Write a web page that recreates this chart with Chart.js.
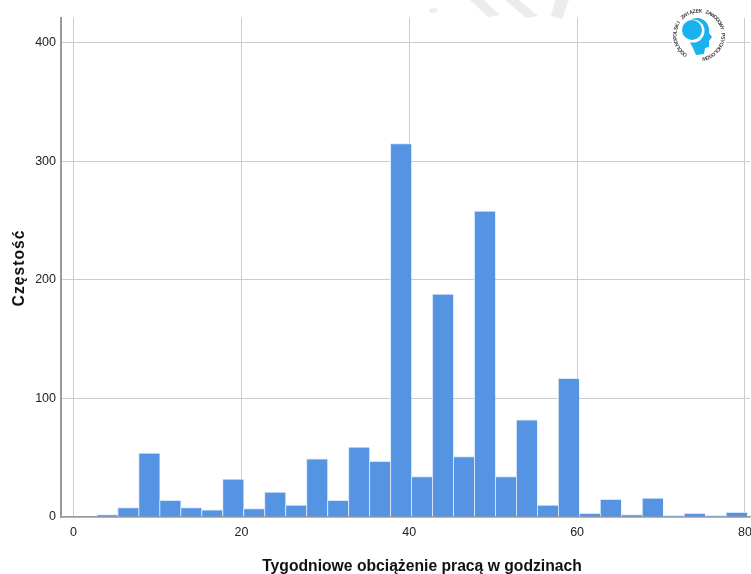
<!DOCTYPE html>
<html lang="pl">
<head>
<meta charset="utf-8">
<title>Tygodniowe obciążenie pracą</title>
<script src="https://cdn.jsdelivr.net/npm/chart.js@4.4.1/dist/chart.umd.min.js"></script>
<style>
  html, body { margin: 0; padding: 0; background: #fff; }
  #wrap { width: 751px; height: 574px; }
</style>
</head>
<body>
<div id="wrap"><canvas id="wykres" width="751" height="574"></canvas></div>
<script>
// srodki przedzialow histogramu (szerokosc 2,5 h) i liczebnosci
const srodkiPrzedzialow = [4, 6.5, 9, 11.5, 14, 16.5, 19, 21.5, 24, 26.5, 29, 31.5, 34, 36.5, 39, 41.5,
  44, 46.5, 49, 51.5, 54, 56.5, 59, 61.5, 64, 66.5, 69, 71.5, 74, 76.5, 79];
const czestosci = [2, 8, 54, 14, 8, 6, 32, 7, 21, 10, 49, 14, 59, 47, 315, 34,
  188, 51, 258, 34, 82, 10, 117, 3, 15, 2, 16, 1, 3, 1, 4];
const tickiX = [0, 20, 40, 60, 80];
const tickiY = [0, 100, 200, 300, 400];
const tytulX = 'Tygodniowe obciążenie pracą w godzinach';
const tytulY = 'Częstość';
const napisLogo = 'OGÓLNOPOLSKI ZWIĄZEK ZAWODOWY PSYCHOLOGÓW';

const fontTicki = { family: '"Liberation Sans Narrow", "Arial Narrow", sans-serif', size: 12.5 };

function rysujLogo(ctx) {
  const cx = 699, cy = 35;
  ctx.save();
  ctx.fillStyle = '#fff';
  ctx.beginPath(); ctx.arc(cx, cy, 28, 0, Math.PI * 2); ctx.fill();

  // sylwetka glowy
  ctx.fillStyle = '#19b2ec';
  ctx.beginPath();
  ctx.moveTo(cx - 11, cy + 4);
  ctx.quadraticCurveTo(cx - 6, cy + 12, cx - 3, cy + 20);
  ctx.lineTo(cx + 5, cy + 19);
  ctx.lineTo(cx + 6, cy + 13);
  ctx.lineTo(cx + 10, cy + 12);
  ctx.lineTo(cx + 10, cy + 6);
  ctx.lineTo(cx + 13, cy + 2);
  ctx.lineTo(cx + 10, cy - 2);
  ctx.quadraticCurveTo(cx + 11, cy - 14, cx, cy - 17);
  ctx.quadraticCurveTo(cx - 10, cy - 18, cx - 14, cy - 8);
  ctx.closePath();
  ctx.fill();
  ctx.fillStyle = '#fff';
  ctx.beginPath(); ctx.arc(cx - 6, cy - 4, 11.5, 0, Math.PI * 2); ctx.fill();
  ctx.fillStyle = '#19b2ec';
  ctx.beginPath(); ctx.arc(cx - 7, cy - 5, 10, 0, Math.PI * 2); ctx.fill();

  // napis po okregu
  ctx.fillStyle = '#444';
  ctx.font = 'bold 5.2px "Liberation Sans", sans-serif';
  ctx.textAlign = 'center';
  ctx.textBaseline = 'alphabetic';
  const start = 122 * Math.PI / 180, krok = (319 / napisLogo.length) * Math.PI / 180, r = 22.5;
  for (let i = 0; i < napisLogo.length; i++) {
    const a = start + krok * (i + 0.5);
    ctx.save();
    ctx.translate(cx + r * Math.cos(a), cy + r * Math.sin(a));
    ctx.rotate(a + Math.PI / 2);
    ctx.fillText(napisLogo[i], 0, 0);
    ctx.restore();
  }
  ctx.restore();
}

function rysujZnakWodny(ctx) {
  ctx.save();
  ctx.fillStyle = '#ececec';
  const ksztalty = [
    [[429, 9], [436, 8], [438, 12], [431, 13]],
    [[470, 0], [484, 0], [500, 15], [488, 17]],
    [[505, 0], [519, 0], [538, 16], [526, 18]],
    [[555, 0], [569, 0], [562, 19], [551, 16]]
  ];
  ksztalty.forEach(k => {
    ctx.beginPath();
    ctx.moveTo(k[0][0], k[0][1]);
    k.slice(1).forEach(p => ctx.lineTo(p[0], p[1]));
    ctx.closePath();
    ctx.fill();
  });
  ctx.restore();
}

const opisy = {
  id: 'opisy',
  beforeDraw(chart) {
    rysujZnakWodny(chart.ctx);
  },
  afterDraw(chart) {
    const ctx = chart.ctx;
    ctx.save();
    ctx.fillStyle = '#111';
    ctx.font = 'bold 15.7px "Liberation Sans", Arial, sans-serif';
    ctx.textAlign = 'center';
    ctx.textBaseline = 'alphabetic';
    ctx.fillText(tytulX, 422, 570.5);
    ctx.translate(23.5, 268);
    ctx.rotate(-Math.PI / 2);
    ctx.letterSpacing = '1px';
    ctx.fillText(tytulY, 0, 0);
    ctx.restore();
    rysujLogo(ctx);
  }
};

const ctx = document.getElementById('wykres').getContext('2d');
new Chart(ctx, {
  type: 'bar',
  data: {
    datasets: [{
      label: tytulY,
      data: srodkiPrzedzialow.map((x, i) => ({ x, y: czestosci[i] })),
      backgroundColor: '#5594e3',
      borderColor: '#d6e5f8',
      borderWidth: { left: 1, top: 1, right: 0, bottom: 0 },
      barPercentage: 1,
      categoryPercentage: 1
    }]
  },
  options: {
    responsive: false,
    animation: false,
    devicePixelRatio: 1,
    layout: { padding: { top: 18, right: 1, left: 0, bottom: 0 } },
    plugins: { legend: { display: false }, tooltip: { enabled: false } },
    scales: {
      x: {
        type: 'linear',
        offset: false,
        min: -1.5,
        max: 80.6,
        afterBuildTicks: s => { s.ticks = tickiX.map(v => ({ value: v })); },
        afterFit: s => { s.height = 57; s.paddingLeft = 0; s.paddingRight = 0; },
        ticks: { color: '#222', font: fontTicki, padding: 8, maxRotation: 0 },
        grid: { color: '#cccccc', lineWidth: 1, drawTicks: false, offset: false },
        border: { color: '#9a9a9a', width: 1.5 }
      },
      y: {
        min: 0,
        max: 421,
        afterBuildTicks: s => { s.ticks = tickiY.map(v => ({ value: v })); },
        afterFit: s => { s.width = 61; s.paddingTop = 0; s.paddingBottom = 0; },
        ticks: { color: '#222', font: fontTicki, padding: 5 },
        grid: { color: '#cccccc', lineWidth: 1, drawTicks: false },
        border: { color: '#9a9a9a', width: 2 }
      }
    }
  },
  plugins: [opisy]
});
</script>
</body>
</html>
